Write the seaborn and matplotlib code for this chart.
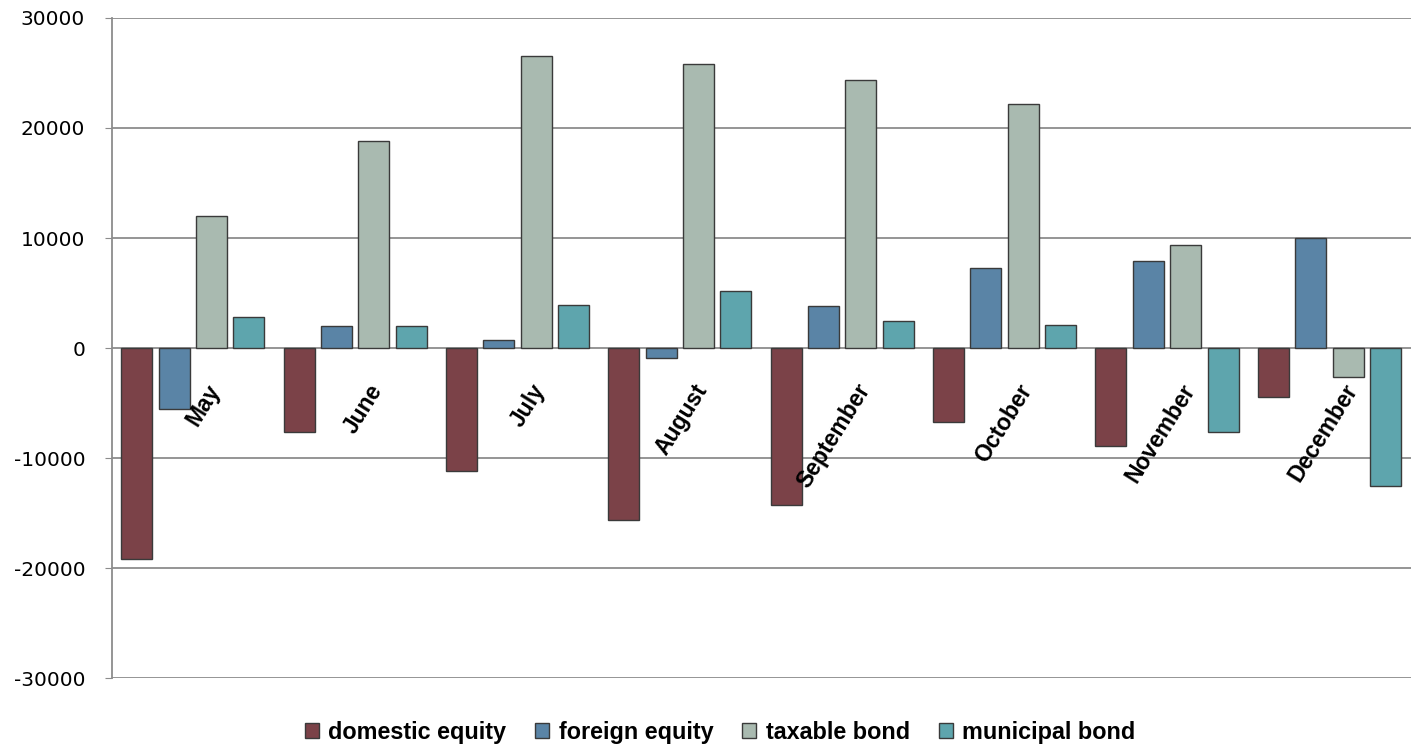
import matplotlib
matplotlib.use('Agg')
import matplotlib.pyplot as plt
import seaborn as sns
import pandas as pd

months = ['May', 'June', 'July', 'August', 'September', 'October', 'November', 'December']
series = ['domestic equity', 'foreign equity', 'taxable bond', 'municipal bond']
domestic_equity = [-19200, -7650, -11200, -15600, -14300, -6700, -8900, -4400]
foreign_equity = [-5500, 2000, 700, -900, 3800, 7300, 7900, 10000]
taxable_bond = [12000, 18800, 26500, 25800, 24400, 22200, 9350, -2650]
municipal_bond = [2800, 2000, 3900, 5200, 2450, 2100, -7650, -12500]
colors = ['#7b4248', '#5a84a6', '#a9bab0', '#5ea5ad']

rows = []
for name, vals in zip(series, [domestic_equity, foreign_equity, taxable_bond, municipal_bond]):
    for m, v in zip(months, vals):
        rows.append({'month': m, 'series': name, 'value': v})
df = pd.DataFrame(rows)

sns.set_style('white')
plt.rcParams['font.family'] = ['Liberation Sans', 'DejaVu Sans']

fig, ax = plt.subplots(figsize=(14.12, 7.47), dpi=100)
fig.subplots_adjust(left=0.079, right=0.999, top=0.976, bottom=0.092)

sns.barplot(data=df, x='month', y='value', hue='series', order=months, hue_order=series,
            palette=colors, width=0.92, gap=0.17, edgecolor='#3a3a3a', linewidth=1.0,
            saturation=1, ax=ax, zorder=3)

ax.set_ylim(-30000, 30000)
ticks = list(range(-30000, 30001, 10000))
ax.set_yticks(ticks)
ax.set_yticklabels([str(t) for t in ticks], fontsize=14.5, family='DejaVu Sans', color='black')
ax.yaxis.grid(True, color='#8c8c8c', linewidth=1.3, zorder=0)
ax.set_axisbelow(True)
ax.tick_params(axis='y', length=5, color='#8c8c8c', left=True, pad=14)
ax.set_xlabel('')
ax.set_ylabel('')

for s in ['top', 'right', 'bottom']:
    ax.spines[s].set_visible(False)
ax.spines['left'].set_color('#8c8c8c')
ax.spines['left'].set_linewidth(1.3)

# month labels sit just under the zero line
ax.set_xticks([])
for i, m in enumerate(months):
    ax.text(i + 0.08, -2900, m, rotation=58, ha='right', va='top', rotation_mode='anchor',
            fontsize=16.5, fontweight='bold', color='black', zorder=5)

ax.get_legend().remove()
handles, labels = ax.get_legend_handles_labels()
fig.legend(handles, labels, loc='center', bbox_to_anchor=(0.51, 0.02), ncol=4, frameon=False,
           prop={'size': 16.8, 'weight': 'bold'}, handlelength=0.6, handleheight=0.6,
           columnspacing=1.25, handletextpad=0.4, labelcolor='black')

fig.savefig('out.png', dpi=100)
